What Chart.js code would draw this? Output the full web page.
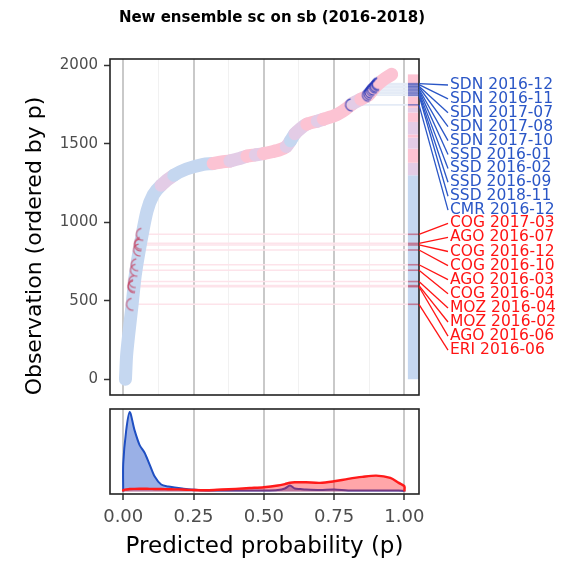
<!DOCTYPE html>
<html>
<head>
<meta charset="utf-8">
<script src="https://cdn.jsdelivr.net/npm/chart.js@4.4.1/dist/chart.umd.min.js"></script>
<style>
  body { margin: 0; background: #fff; }
  #wrap { position: relative; width: 563px; height: 562px; }
  canvas { position: absolute; left: 0; }
  #main { top: 0; }
  #dens { top: 400px; }
</style>
</head>
<body>
<div id="wrap">
  <canvas id="main" width="563" height="410"></canvas>
  <canvas id="dens" width="563" height="162"></canvas>
</div>
<script>
// Data
const titleText = 'New ensemble sc on sb (2016-2018)';
const yTitle = 'Observation (ordered by p)';
const xTitle = 'Predicted probability (p)';
const xTicks = [0, 0.25, 0.5, 0.75, 1];
const xMinor = [0.125, 0.375, 0.625, 0.875];
const yTicks = [0, 500, 1000, 1500, 2000];

// observations ordered by p (the thick curve); kind 0 = outcome 0, 1 = outcome 1, 2 = mixed
const curveP   = [0.008, 0.012, 0.019, 0.032, 0.043, 0.062, 0.085, 0.107, 0.135, 0.180, 0.225, 0.285, 0.320, 0.350, 0.380, 0.410, 0.440, 0.470, 0.498, 0.530, 0.558, 0.580, 0.595, 0.611, 0.632, 0.653, 0.690, 0.712, 0.760, 0.790, 0.818, 0.845, 0.872, 0.890, 0.907, 0.930, 0.955];
const curveObs = [0, 150, 276, 482, 665, 870, 1074, 1176, 1237, 1300, 1340, 1370, 1375, 1385, 1391, 1405, 1422, 1430, 1438, 1450, 1463, 1483, 1520, 1565, 1600, 1626, 1645, 1657, 1687, 1720, 1759, 1785, 1810, 1850, 1882, 1915, 1943];
const curveKind = [0, 0, 0, 0, 0, 0, 0, 0, 2, 0, 0, 0, 1, 1, 2, 2, 1, 2, 1, 1, 1, 2, 0, 2, 2, 1, 2, 1, 1, 1, 2, 1, 1, 1, 1, 1, 1];

// outcome strip at the right of the panel
const stripX = 1.032;
const stripObs  = [0, 1300, 1380, 1470, 1540, 1560, 1640, 1700, 1730, 1800, 1880, 1943];
const stripKind = [0, 2, 1, 2, 1, 2, 1, 2, 1, 2, 1, 1];

// false positives (blue labels) and false negatives (red labels)
const fpLabels = ['SDN 2016-12', 'SDN 2016-11', 'SDN 2017-07', 'SDN 2017-08', 'SDN 2017-10', 'SSD 2016-01', 'SSD 2016-02', 'SSD 2016-09', 'SSD 2018-11', 'CMR 2016-12'];
const fpObs = [1884, 1878, 1868, 1861, 1850, 1841, 1830, 1820, 1810, 1749];
const fpP   = [0.907, 0.905, 0.900, 0.897, 0.890, 0.886, 0.881, 0.877, 0.872, 0.812];
const fnLabels = ['COG 2017-03', 'AGO 2016-07', 'COG 2016-12', 'COG 2016-10', 'AGO 2016-03', 'COG 2016-04', 'MOZ 2016-04', 'MOZ 2016-02', 'AGO 2016-06', 'ERI 2016-06'];
const fnObs = [924, 866, 856, 824, 730, 695, 623, 597, 590, 478];
const fnP   = [0.068, 0.062, 0.061, 0.058, 0.050, 0.047, 0.041, 0.039, 0.038, 0.033];

// densities of p by outcome (bottom panel)
const densX    = [0, 0, 0.01, 0.023, 0.04, 0.058, 0.076, 0.094, 0.112, 0.135, 0.16, 0.183, 0.21, 0.242, 0.3, 0.35, 0.4, 0.45, 0.5, 0.55, 0.575, 0.593, 0.61, 0.63, 0.65, 0.7, 0.75, 0.8, 0.85, 0.9, 0.95, 0.98, 1, 1];
const densBlue = [0, 28, 60, 80, 62, 47, 39, 27, 15, 7, 5, 4, 3, 2, 1, 1, 1, 1, 1, 1.5, 3, 6, 3, 2.5, 2, 1.5, 2, 1, 1, 1, 1, 1, 0.5, 0];
const densRed  = [0, 1.5, 2, 2.5, 2.7, 2.8, 2.8, 2.7, 2.6, 2.5, 2.3, 2.2, 2.0, 1.6, 1.3, 2, 2.7, 3.5, 4.3, 6, 7.5, 8.8, 9.3, 9.3, 9.3, 8.7, 10.3, 12.7, 14.7, 16, 13.7, 8.7, 5.3, 0];

// styles
const FONT = '"DejaVu Sans", Verdana, sans-serif';
const kindColor = ['#c5d7f0', '#fcc3d3', '#e3cce6'];
const blueText = '#2a56c6';
const redText = '#ff1414';
const xMin = -0.047, xMax = 1.052;
const stripLeft = 1.013, stripRight = 1.051;

Chart.defaults.font.family = FONT;
Chart.defaults.animation = false;

function gridColor(ctx) {
  const v = ctx.tick ? ctx.tick.value : 0;
  return xTicks.includes(v) ? '#c9c9c9' : '#f1f1f1';
}
function gridWidth(ctx) {
  const v = ctx.tick ? ctx.tick.value : 0;
  return xTicks.includes(v) ? 2 : 1;
}

// half-open circle marker like the overplotted points in the picture
function arcMarker(color) {
  const c = document.createElement('canvas');
  c.width = 16; c.height = 16;
  const g = c.getContext('2d');
  g.strokeStyle = color;
  g.lineWidth = 1.2;
  g.beginPath();
  g.arc(8, 8, 6, 0.45 * Math.PI, 1.45 * Math.PI);
  g.stroke();
  return c;
}
const redArc = arcMarker('rgba(200,70,100,0.8)');
const blueArc = arcMarker('rgba(35,55,185,0.85)');

// highlighted observations: faint line to the strip, dark mark in the strip
const hiDatasets = [];
function addHighlights(ps, obs, light, dark) {
  ps.forEach((p, i) => {
    hiDatasets.push({
      data: [{ x: p, y: obs[i] }, { x: stripLeft, y: obs[i] }, { x: stripRight, y: obs[i] }],
      borderWidth: 1.6,
      pointRadius: 0,
      segment: { borderColor: c => c.p0DataIndex === 0 ? light : dark },
      order: 6
    });
  });
}
addHighlights(fnP, fnObs, '#fde3ea', 'rgba(190,60,90,0.6)');
addHighlights(fpP, fpObs, '#e4ebf6', 'rgba(40,70,180,0.55)');

const panel = {
  id: 'panel',
  afterDraw(chart) {
    const { ctx, chartArea: a } = chart;
    ctx.save();
    ctx.strokeStyle = '#222';
    ctx.lineWidth = 1.6;
    ctx.strokeRect(a.left, a.top, a.right - a.left, a.bottom - a.top);
    ctx.restore();
  }
};

const labels = {
  id: 'labels',
  afterDraw(chart) {
    const { ctx, chartArea: a, scales: { y } } = chart;
    ctx.save();
    ctx.fillStyle = '#000';
    ctx.font = 'bold 15px ' + FONT;
    ctx.textAlign = 'center';
    ctx.textBaseline = 'middle';
    ctx.fillText(titleText, 272, 18);

    ctx.save();
    ctx.translate(35, 246);
    ctx.rotate(-Math.PI / 2);
    ctx.font = '22px ' + FONT;
    ctx.fillText(yTitle, 0, 0);
    ctx.restore();

    ctx.font = '15.5px ' + FONT;
    ctx.textAlign = 'left';
    const tx = 450;
    const draw = (names, obs, top, step, color) => {
      names.forEach((n, i) => {
        const ly = top + i * step;
        ctx.strokeStyle = color;
        ctx.lineWidth = 1.3;
        ctx.beginPath();
        ctx.moveTo(a.right, y.getPixelForValue(obs[i]));
        ctx.lineTo(tx - 2, ly);
        ctx.stroke();
        ctx.fillStyle = color;
        ctx.fillText(n, tx, ly);
      });
    };
    draw(fpLabels, fpObs, 85, 13.9, blueText);
    draw(fnLabels, fnObs, 223.3, 14.1, redText);
    ctx.restore();
  }
};

new Chart(document.getElementById('main'), {
  type: 'line',
  data: {
    datasets: [
      {
        data: fnP.map((p, i) => ({ x: p, y: fnObs[i] })).concat(fpP.map((p, i) => ({ x: p, y: fpObs[i] }))),
        showLine: false,
        pointStyle: fnP.map(() => redArc).concat(fpP.map(() => blueArc)),
        order: 1
      },
      {
        data: stripObs.map(o => ({ x: stripX, y: o })),
        borderWidth: 11,
        borderCapStyle: 'butt',
        pointRadius: 0,
        segment: { borderColor: c => kindColor[stripKind[c.p0DataIndex]] },
        order: 7
      },
      {
        data: curveP.map((p, i) => ({ x: p, y: curveObs[i] })),
        borderWidth: 13,
        borderCapStyle: 'round',
        borderJoinStyle: 'round',
        tension: 0.25,
        pointRadius: 0,
        segment: { borderColor: c => kindColor[curveKind[c.p0DataIndex]] },
        order: 5
      },
      ...hiDatasets
    ]
  },
  options: {
    responsive: false,
    devicePixelRatio: 1,
    layout: { padding: { left: 0, right: 144, top: 59, bottom: 2 } },
    plugins: { legend: { display: false }, tooltip: { enabled: false } },
    scales: {
      x: {
        type: 'linear',
        min: xMin, max: xMax,
        afterBuildTicks: s => { s.ticks = xTicks.concat(xMinor).map(v => ({ value: v })); },
        afterFit: s => { s.height = 0; },
        ticks: { display: false },
        grid: { color: gridColor, lineWidth: gridWidth, drawTicks: false },
        border: { display: false }
      },
      y: {
        type: 'linear',
        min: -100, max: 2041,
        afterBuildTicks: s => { s.ticks = yTicks.map(v => ({ value: v })); },
        afterFit: s => { s.width = 110; },
        ticks: { color: '#4d4d4d', font: { size: 15 }, padding: 6, callback: v => String(v) },
        grid: { drawOnChartArea: false, tickLength: 6, tickColor: '#333', tickWidth: 1.5 },
        border: { display: false }
      }
    }
  },
  plugins: [panel, labels]
});

new Chart(document.getElementById('dens'), {
  type: 'line',
  data: {
    datasets: [
      {
        data: densX.map((x, i) => ({ x, y: densRed[i] })),
        borderColor: '#ff1a1a',
        backgroundColor: 'rgba(255,20,30,0.38)',
        borderWidth: 2.4,
        fill: { value: 0 },
        tension: 0.3,
        pointRadius: 0,
        order: 1
      },
      {
        data: densX.map((x, i) => ({ x, y: densBlue[i] })),
        borderColor: '#1f4fc2',
        backgroundColor: 'rgba(30,80,200,0.45)',
        borderWidth: 2,
        fill: { value: 0 },
        tension: 0.3,
        pointRadius: 0,
        order: 2
      }
    ]
  },
  options: {
    responsive: false,
    devicePixelRatio: 1,
    layout: { padding: { left: 110, right: 144, top: 9, bottom: 0 } },
    plugins: { legend: { display: false }, tooltip: { enabled: false } },
    scales: {
      x: {
        type: 'linear',
        min: xMin, max: xMax,
        afterBuildTicks: s => { s.ticks = xTicks.map(v => ({ value: v })); },
        afterFit: s => { s.height = 68; },
        ticks: { color: '#4d4d4d', font: { size: 18 }, padding: 7, maxRotation: 0, callback: v => v.toFixed(2) },
        grid: { color: '#c9c9c9', lineWidth: 2, tickLength: 6, tickColor: '#333', tickWidth: 1.5 },
        border: { display: false },
        title: { display: true, text: xTitle, color: '#000', font: { size: 23 }, padding: { top: 0, bottom: 1 } }
      },
      y: {
        display: false,
        min: -2.5, max: 83
      }
    }
  },
  plugins: [panel]
});
</script>
</body>
</html>
